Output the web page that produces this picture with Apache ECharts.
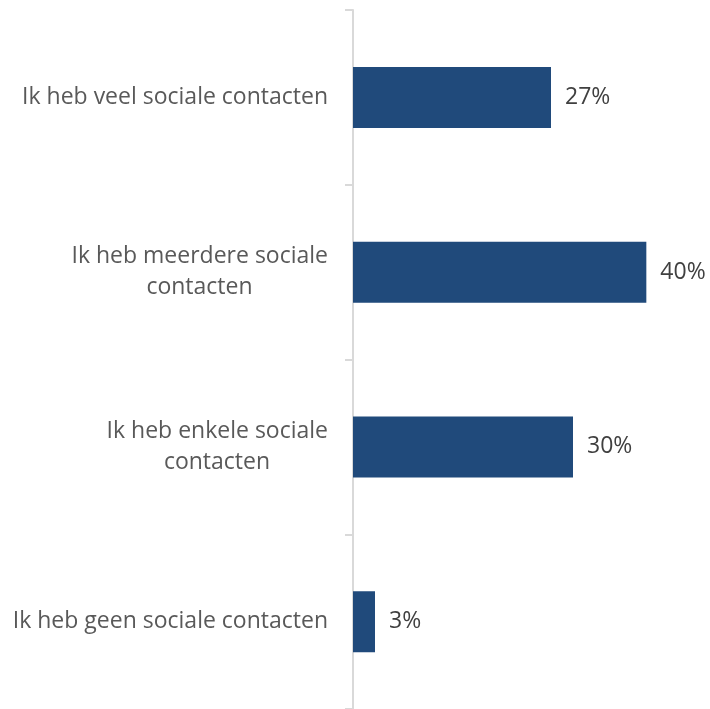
<!DOCTYPE html>
<html><head><meta charset="utf-8">
<script src="https://cdn.jsdelivr.net/npm/echarts@6/dist/echarts.min.js"></script>
<style>html,body{margin:0;padding:0;background:#fff}#c{width:710px;height:709px}</style>
</head><body><div id="c"></div>
<script>
const categories = ["Ik heb veel sociale contacten", "Ik heb meerdere sociale|contacten", "Ik heb enkele sociale|contacten", "Ik heb geen sociale contacten"];
const values = [27, 40, 30, 3];
const FONT = "Open Sans";
const FS = 23;
const ctx = document.createElement('canvas').getContext('2d');
ctx.font = FS + 'px "' + FONT + '"';
const richStyles = {a: {fontFamily: FONT, fontSize: FS, color: '#595959', lineHeight: 31}};
const fmtMap = {};
categories.forEach(function (v, i) {
  const parts = v.split('|');
  if (parts.length === 1) { fmtMap[v] = '{a|' + parts[0] + '}'; return; }
  const w = Math.ceil(ctx.measureText(parts[0]).width);
  const key = 'b' + i;
  richStyles[key] = {fontFamily: FONT, fontSize: FS, color: '#595959', lineHeight: 31, width: w, align: 'center'};
  fmtMap[v] = '{a|' + parts[0] + '}\n{' + key + '|' + parts[1] + '}';
});
const chart = echarts.init(document.getElementById('c'));
chart.setOption({
  animation: false,
  grid: {left: 353, top: 10, width: 330, bottom: 0, containLabel: false},
  xAxis: {type: 'value', min: 0, max: 45, show: false},
  yAxis: {
    type: 'category', data: categories, inverse: true,
    axisLine: {lineStyle: {color: '#d9d9d9', width: 2}},
    axisTick: {show: true, length: 8, lineStyle: {color: '#d9d9d9', width: 2}},
    axisLabel: {
      margin: 25, align: 'right',
      formatter: function (v) { return fmtMap[v]; },
      rich: richStyles
    }
  },
  series: [{
    type: 'bar', data: values, barWidth: 61,
    itemStyle: {color: '#204a7b'},
    label: {show: true, position: 'right', distance: 14, formatter: '{c}%', fontFamily: FONT, fontSize: FS, color: '#404040'}
  }]
});
</script></body></html>
